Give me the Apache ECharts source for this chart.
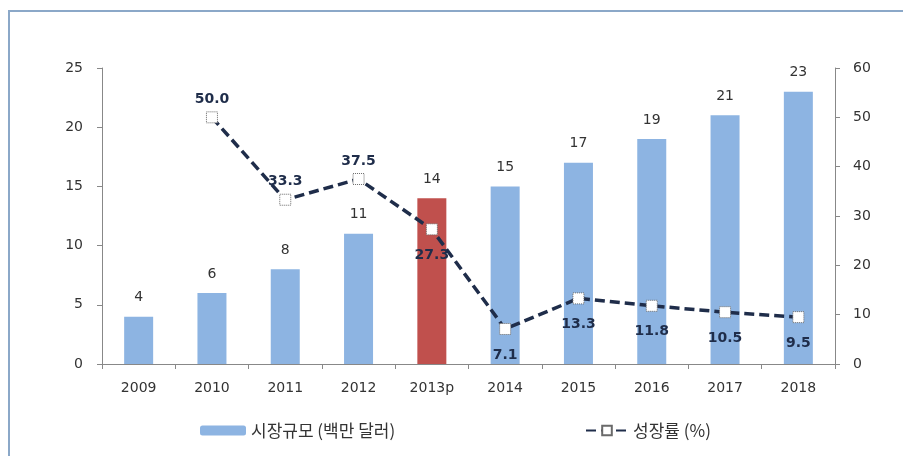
<!DOCTYPE html>
<html>
<head>
<meta charset="utf-8">
<script src="https://cdn.jsdelivr.net/npm/echarts@6/dist/echarts.min.js"></script>
<style>
  html, body { margin: 0; padding: 0; background: #fff; }
  #main { width: 903px; height: 456px; }
</style>
</head>
<body>
<div id="main"></div>
<script>
var years = ['2009', '2010', '2011', '2012', '2013p', '2014', '2015', '2016', '2017', '2018'];
var marketSize = [4, 6, 8, 11, 14, 15, 17, 19, 21, 23];
var growthRate = [null, 50.0, 33.3, 37.5, 27.3, 7.1, 13.3, 11.8, 10.5, 9.5];
var leftTicks = [0, 5, 10, 15, 20, 25];
var rightTicks = [0, 10, 20, 30, 40, 50, 60];

var highlight = '2013p';
var barNames = '시장규모 (백만 달러)';
var lineName = '성장률 (%)';

var barData = [];
for (var i = 0; i < years.length; i++) {
    barData.push({
        value: marketSize[i],
        itemStyle: { color: years[i] == highlight ? '#C0504D' : '#8DB4E2' }
    });
}

var lineData = [];
for (var j = 0; j < years.length; j++) {
    // first points have labels above the line, the rest below
    lineData.push({
        value: growthRate[j],
        label: j <= 3 ? { position: 'top', distance: 5 } : { position: 'bottom', distance: 13 }
    });
}

var myChart = echarts.init(document.getElementById('main'));

var font = 'Noto Sans CJK KR';
var numFont = 'DejaVu Sans';

var option = {
    backgroundColor: '#fff',
    animation: false,
    textStyle: { fontFamily: font },
    graphic: [{
        type: 'rect',
        shape: { x: 9, y: 11, width: 900, height: 460 },
        style: { fill: 'none', stroke: '#8BA8C8', lineWidth: 2 },
        silent: true
    }],
    grid: { left: 102, right: 68, top: 68, bottom: 92 },
    legend: [{
        data: [barNames],
        left: 195, top: 417,
        itemWidth: 46, itemHeight: 10, itemGap: 2,
        textStyle: { fontSize: 17, color: '#333', fontFamily: font }
    }, {
        data: [lineName],
        left: 580, top: 417,
        itemWidth: 42, itemHeight: 12,
        textStyle: { fontSize: 17, color: '#333', fontFamily: font }
    }],
    xAxis: {
        type: 'category',
        data: years,
        axisLine: { lineStyle: { color: '#888' } },
        axisTick: { show: true, length: 5, lineStyle: { color: '#888' } },
        axisLabel: { fontSize: 14, color: '#333', margin: 17, fontFamily: numFont }
    },
    yAxis: [{
        type: 'value',
        min: 0, max: 25, interval: 5,
        splitLine: { show: false },
        axisLine: { show: true, lineStyle: { color: '#888' } },
        axisTick: { show: true, length: 5, lineStyle: { color: '#888' } },
        axisLabel: { fontSize: 14, color: '#333', margin: 19, fontFamily: numFont }
    }, {
        type: 'value',
        min: 0, max: 60, interval: 10,
        splitLine: { show: false },
        axisLine: { show: true, lineStyle: { color: '#888' } },
        axisTick: { show: true, length: 5, lineStyle: { color: '#888' } },
        axisLabel: { fontSize: 14, color: '#333', margin: 18, fontFamily: numFont }
    }],
    series: [{
        name: barNames,
        type: 'bar',
        yAxisIndex: 0,
        barWidth: 29,
        data: barData,
        itemStyle: { color: '#8DB4E2' },
        label: {
            show: true, position: 'top', distance: 12,
            fontSize: 14, color: '#333', fontFamily: numFont
        }
    }, {
        name: lineName,
        type: 'line',
        yAxisIndex: 1,
        data: lineData,
        connectNulls: false,
        symbol: 'rect',
        symbolSize: 11,
        lineStyle: { color: '#1F2D4A', width: 3.5, type: [10, 5] },
        itemStyle: {
            color: '#fff', borderColor: '#6a6a6a',
            borderWidth: 1, borderType: 'dotted'
        },
        label: {
            show: true,
            fontSize: 14, fontWeight: 'bold', color: '#1F2D4A', fontFamily: numFont,
            formatter: function (p) { return p.value == null ? '' : Number(p.value).toFixed(1); }
        },
        z: 5
    }]
};

myChart.setOption(option);
</script>
</body>
</html>
